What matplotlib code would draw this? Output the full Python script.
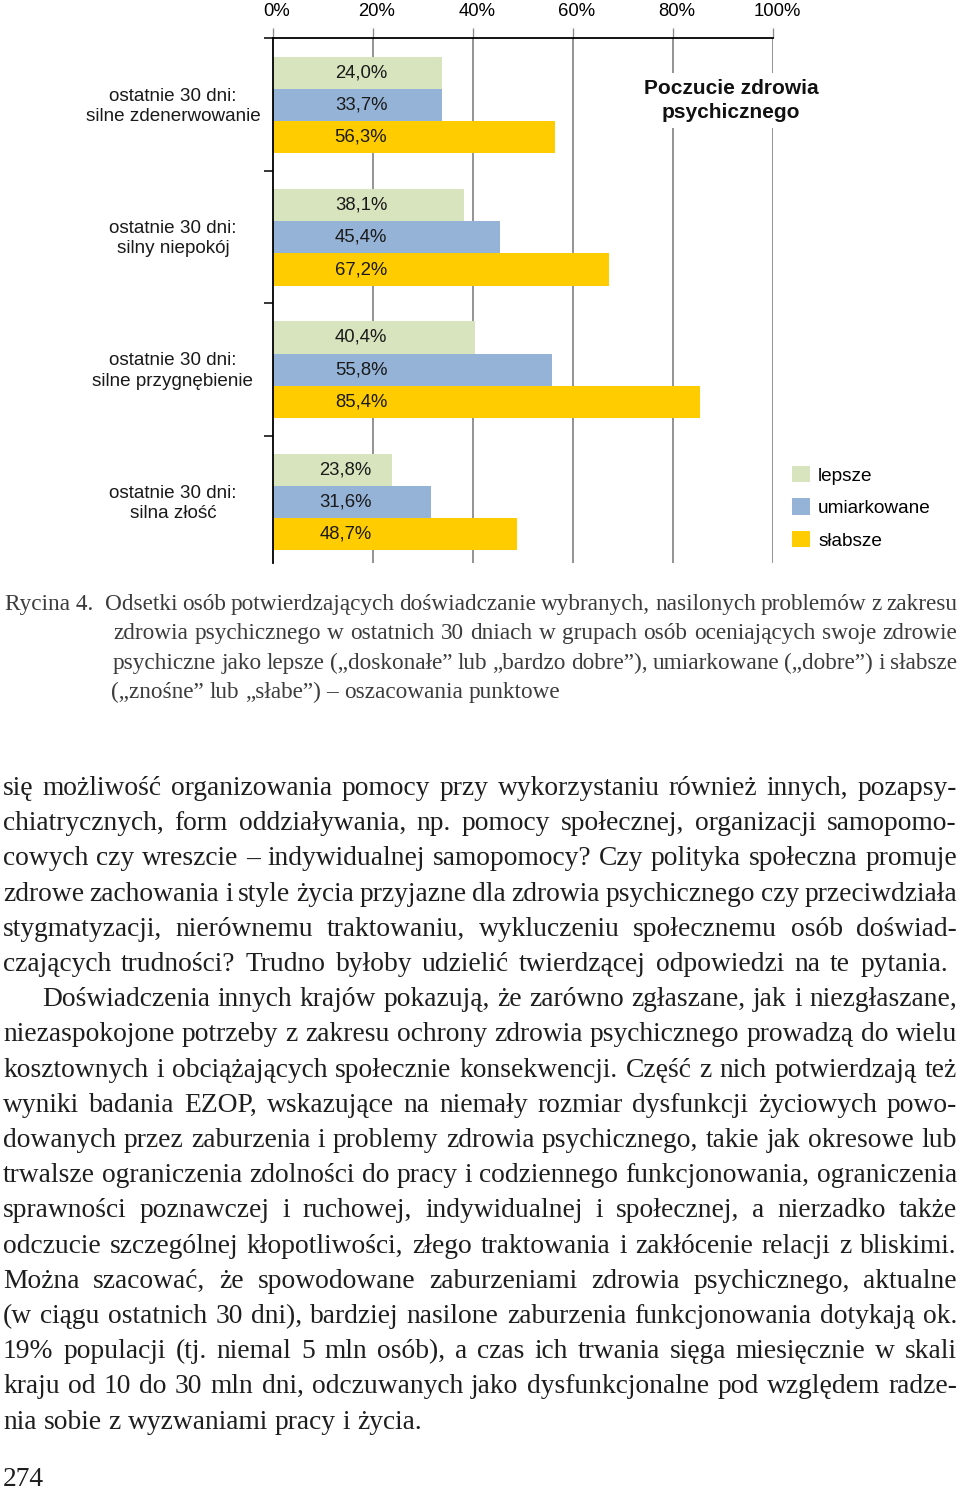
import matplotlib
matplotlib.use("Agg")
import matplotlib.pyplot as plt
from matplotlib.patches import Patch
from matplotlib.transforms import ScaledTranslation
from matplotlib.font_manager import FontProperties
import numpy as np

# ---------------- data ----------------
categories = [
    "ostatnie 30 dni:\nsilne zdenerwowanie",
    "ostatnie 30 dni:\nsilny niepokój",
    "ostatnie 30 dni:\nsilne przygnębienie",
    "ostatnie 30 dni:\nsilna złość",
]
series_names = ["lepsze", "umiarkowane", "słabsze"]
# bar lengths as drawn in the picture
lepsze = [33.7, 38.1, 40.4, 23.8]
umiarkowane = [33.7, 45.4, 55.8, 31.6]
slabsze = [56.3, 67.2, 85.4, 48.7]
# printed value labels
lepsze_labels = ["24,0%", "38,1%", "40,4%", "23,8%"]
umiarkowane_labels = ["33,7%", "45,4%", "55,8%", "31,6%"]
slabsze_labels = ["56,3%", "67,2%", "85,4%", "48,7%"]
xticks = [0, 20, 40, 60, 80, 100]
xtick_labels = ["0%", "20%", "40%", "60%", "80%", "100%"]
chart_title = "Poczucie zdrowia\npsychicznego"

caption_head = "Rycina 4."
caption_lines = [
    "Odsetki osób potwierdzających doświadczanie wybranych, nasilonych problemów z zakresu",
    "zdrowia psychicznego w ostatnich 30 dniach w grupach osób oceniających swoje zdrowie",
    "psychiczne jako lepsze („doskonałe” lub „bardzo dobre”), umiarkowane („dobre”) i słabsze",
    "(„znośne” lub „słabe”) – oszacowania punktowe",
]
body_lines = [
    "się możliwość organizowania pomocy przy wykorzystaniu również innych, pozapsy-",
    "chiatrycznych, form oddziaływania, np. pomocy społecznej, organizacji samopomo-",
    "cowych czy wreszcie – indywidualnej samopomocy? Czy polityka społeczna promuje",
    "zdrowe zachowania i style życia przyjazne dla zdrowia psychicznego czy przeciwdziała",
    "stygmatyzacji, nierównemu traktowaniu, wykluczeniu społecznemu osób doświad-",
    "czających trudności? Trudno byłoby udzielić twierdzącej odpowiedzi na te pytania.",
    "Doświadczenia innych krajów pokazują, że zarówno zgłaszane, jak i niezgłaszane,",
    "niezaspokojone potrzeby z zakresu ochrony zdrowia psychicznego prowadzą do wielu",
    "kosztownych i obciążających społecznie konsekwencji. Część z nich potwierdzają też",
    "wyniki badania EZOP, wskazujące na niemały rozmiar dysfunkcji życiowych powo-",
    "dowanych przez zaburzenia i problemy zdrowia psychicznego, takie jak okresowe lub",
    "trwalsze ograniczenia zdolności do pracy i codziennego funkcjonowania, ograniczenia",
    "sprawności poznawczej i ruchowej, indywidualnej i społecznej, a nierzadko także",
    "odczucie szczególnej kłopotliwości, złego traktowania i zakłócenie relacji z bliskimi.",
    "Można szacować, że spowodowane zaburzeniami zdrowia psychicznego, aktualne",
    "(w ciągu ostatnich 30 dni), bardziej nasilone zaburzenia funkcjonowania dotykają ok.",
    "19% populacji (tj. niemal 5 mln osób), a czas ich trwania sięga miesięcznie w skali",
    "kraju od 10 do 30 mln dni, odczuwanych jako dysfunkcjonalne pod względem radze-",
    "nia sobie z wyzwaniami pracy i życia.",
]
page_number = "274"

# ---------------- figure ----------------
W, H = 960, 1494
plt.rcParams["font.family"] = ["Liberation Sans", "DejaVu Sans"]
fig = plt.figure(figsize=(W / 100, H / 100), dpi=100)

ax = fig.add_axes([273 / W, 1 - 563 / H, 500 / W, 525 / H])
P = 132.3
ytop = (38 - 105) / P
ybot = (563 - 105) / P
ax.set_xlim(0, 100)
ax.set_ylim(ybot, ytop)

bh = 32.2 / P
ypos = np.arange(len(categories))
colors = ["#D7E4BD", "#95B3D7", "#FFCC00"]
label_x = [17.6, 17.6, 17.6, 14.5]
series = [(lepsze, lepsze_labels), (umiarkowane, umiarkowane_labels), (slabsze, slabsze_labels)]
for k, ((vals, labs), c) in enumerate(zip(series, colors)):
    yy = ypos + (k - 1) * bh
    ax.barh(yy, vals, height=bh, color=c, linewidth=0, zorder=2, label=series_names[k])
    for i in range(len(vals)):
        ax.text(label_x[i], yy[i], labs[i], ha="center", va="center",
                fontsize=13.3, color="#1a1a1a", zorder=4)

for v in xticks[1:]:
    ax.axvline(v, color="#8a8a8a", lw=1.3, zorder=1)

for s in ["right", "bottom"]:
    ax.spines[s].set_visible(False)
ax.spines["left"].set_linewidth(1.3)
ax.spines["top"].set_linewidth(1.3)
ax.spines["left"].set_color("black")
ax.spines["top"].set_color("black")

ax.xaxis.tick_top()
ax.set_xticks(xticks)
ax.set_xticklabels(xtick_labels)
ax.tick_params(axis="x", direction="out", length=7.2, width=0.95, color="#8a8a8a",
               pad=6.0, labelsize=13.3)
ax.xaxis.get_major_ticks()[0].tick2line.set_color("black")
off = ScaledTranslation(4 / 100, 0, fig.dpi_scale_trans)
for lab in ax.get_xticklabels():
    lab.set_transform(lab.get_transform() + off)

ax.set_yticks([ytop, 0.5, 1.5, 2.5])
ax.set_yticklabels([])
ax.tick_params(axis="y", direction="out", length=6.5, width=1.1, color="black")

for i, cat in enumerate(categories):
    ax.text(-20, ypos[i] + 1.5 / P, cat, ha="center", va="center", fontsize=13.6,
            linespacing=1.25, color="#1a1a1a", clip_on=False)

ax.text(91.6, (100.5 - 105) / P, chart_title, ha="center", va="center",
        fontsize=15, fontweight="bold", linespacing=1.28, color="#111111", zorder=5,
        bbox=dict(facecolor="white", edgecolor="none", pad=5))

handles = [Patch(facecolor=c, edgecolor="none") for c in colors]
fig.legend(handles, series_names, loc="upper left", bbox_to_anchor=(792 / W, 1 - 466 / H),
           frameon=False, borderpad=0, borderaxespad=0, fontsize=13.7, handlelength=0.95,
           handleheight=0.95, handletextpad=0.42, labelspacing=0.72)

# ---------------- text block ----------------
renderer = fig.canvas.get_renderer()
SERIF = "Liberation Serif"


def wsum(words, size):
    fp = FontProperties(family=SERIF, size=size)
    return sum(renderer.get_text_width_height_descent(w, fp, ismath=False)[0] for w in words)


def fit_size(lines, spans, size0=20.0, mingap=0.2):
    best = 1e9
    for ln, (x0, x1) in zip(lines, spans):
        words = ln.split()
        ws = wsum(words, size0)
        em = size0 * 100 / 72
        need = ws + (len(words) - 1) * mingap * em
        best = min(best, size0 * (x1 - x0) / need)
    return best


def draw_line(text, x0, x1, baseline, size, color, justify=True):
    fp = FontProperties(family=SERIF, size=size)
    words = text.split()
    widths = [renderer.get_text_width_height_descent(w, fp, ismath=False)[0] for w in words]
    if justify and len(words) > 1:
        gap = (x1 - x0 - sum(widths)) / (len(words) - 1)
    else:
        gap = 0.25 * size * 100 / 72
    x = x0
    for w, wd in zip(words, widths):
        fig.text(x / W, 1 - baseline / H, w, fontproperties=fp, color=color,
                 ha="left", va="baseline")
        x += wd + gap


# caption
cap_spans = [(105, 957), (113, 957), (113, 957)]
cap_size = fit_size(caption_lines[:3], cap_spans)
cap_base = [610, 639.3, 668.6, 698]
cap_color = "#3c3c3c"
fig.text(5 / W, 1 - cap_base[0] / H, caption_head,
         fontproperties=FontProperties(family=SERIF, size=cap_size), color=cap_color,
         ha="left", va="baseline")
draw_line(caption_lines[0], 105, 957, cap_base[0], cap_size, cap_color)
draw_line(caption_lines[1], 113, 957, cap_base[1], cap_size, cap_color)
draw_line(caption_lines[2], 113, 957, cap_base[2], cap_size, cap_color)
draw_line(caption_lines[3], 111, 957, cap_base[3], cap_size, cap_color, justify=False)

# body
body_spans = []
for i in range(len(body_lines)):
    x0 = 42 if i == 6 else 3
    x1 = 948 if i == 5 else 957
    body_spans.append((x0, x1))
body_size = fit_size(body_lines[:-1], body_spans[:-1])
body_color = "#1e1e1e"
for i, ln in enumerate(body_lines):
    x0, x1 = body_spans[i]
    draw_line(ln, x0, x1, 795 + 35.2 * i, body_size, body_color,
              justify=(i != len(body_lines) - 1))

fig.text(3 / W, 1 - 1486 / H, page_number,
         fontproperties=FontProperties(family=SERIF, size=body_size), color=body_color,
         ha="left", va="baseline")

fig.savefig("out.png", dpi=100)
